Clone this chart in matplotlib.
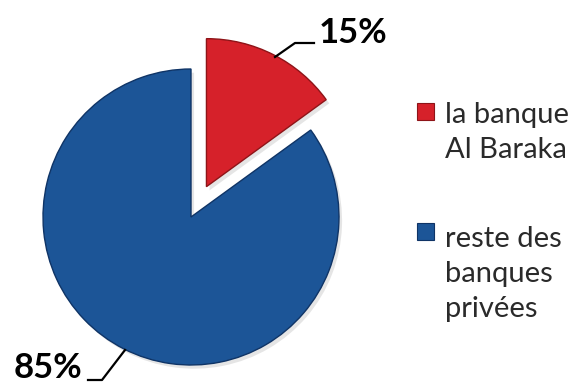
import matplotlib.pyplot as plt
from matplotlib.patches import Rectangle

labels = ['la banque\nAl Baraka', 'reste des\nbanques\nprivées']
values = [15, 85]
pct_labels = ['15%', '85%']
colors = ['#d6212a', '#1c5597']
edge_colors = ['#8e1418', '#0f3466']

W, H = 574, 383
fig = plt.figure(figsize=(W / 100, H / 100), dpi=100)

# pie centre ~ (191, 217) px, radius ~148 px
cx, cy, r = 191, 217, 148
ax = fig.add_axes([(cx - r) / W, (H - cy - r) / H, 2 * r / W, 2 * r / H])
wedges, _ = ax.pie(values, colors=colors, startangle=90, counterclock=False,
                   explode=[0.23, 0], wedgeprops=dict(linewidth=1.0),
                   shadow=dict(ox=0.015, oy=-0.018, facecolor='#999999',
                               edgecolor='none', alpha=0.25))
for w, ec in zip(wedges, edge_colors):
    w.set_edgecolor(ec)
for p in ax.patches:
    p.set_clip_on(False)
ax.set_xlim(-1, 1)
ax.set_ylim(-1, 1)
ax.set_aspect('equal')
ax.axis('off')

def px(x, y):
    return x / W, 1 - y / H

# leader lines and percentage labels
line_kw = dict(color='black', linewidth=1.6, transform=fig.transFigure)
pts1 = [px(275, 57), px(295, 43), px(314, 43)]
pts2 = [px(125, 350), px(102, 380), px(88, 380)]
fig.lines.append(plt.Line2D([p[0] for p in pts1], [p[1] for p in pts1], **line_kw))
fig.lines.append(plt.Line2D([p[0] for p in pts2], [p[1] for p in pts2], **line_kw))

fig.text(*px(319, 43), pct_labels[0], fontsize=25, family='Lato', weight='bold',
         va='baseline', ha='left')
fig.text(*px(82, 378), pct_labels[1], fontsize=25, family='Lato', weight='bold',
         va='baseline', ha='right')

# legend drawn by hand
sq = 17
sq_tops = [103, 223]
baselines = [[123, 158], [247, 282, 317]]
for lab, col, ec, top, bls in zip(labels, colors, edge_colors, sq_tops, baselines):
    x0, y0 = px(417, top + sq)
    fig.patches.append(Rectangle((x0, y0), sq / W, sq / H, facecolor=col,
                                 edgecolor=ec, linewidth=0.8,
                                 transform=fig.transFigure))
    for line, bl in zip(lab.split('\n'), bls):
        fig.text(*px(445, bl), line, fontsize=21, family='Lato', color='#2a2a2a',
                 va='baseline', ha='left')

fig.savefig('out.png', dpi=100)
